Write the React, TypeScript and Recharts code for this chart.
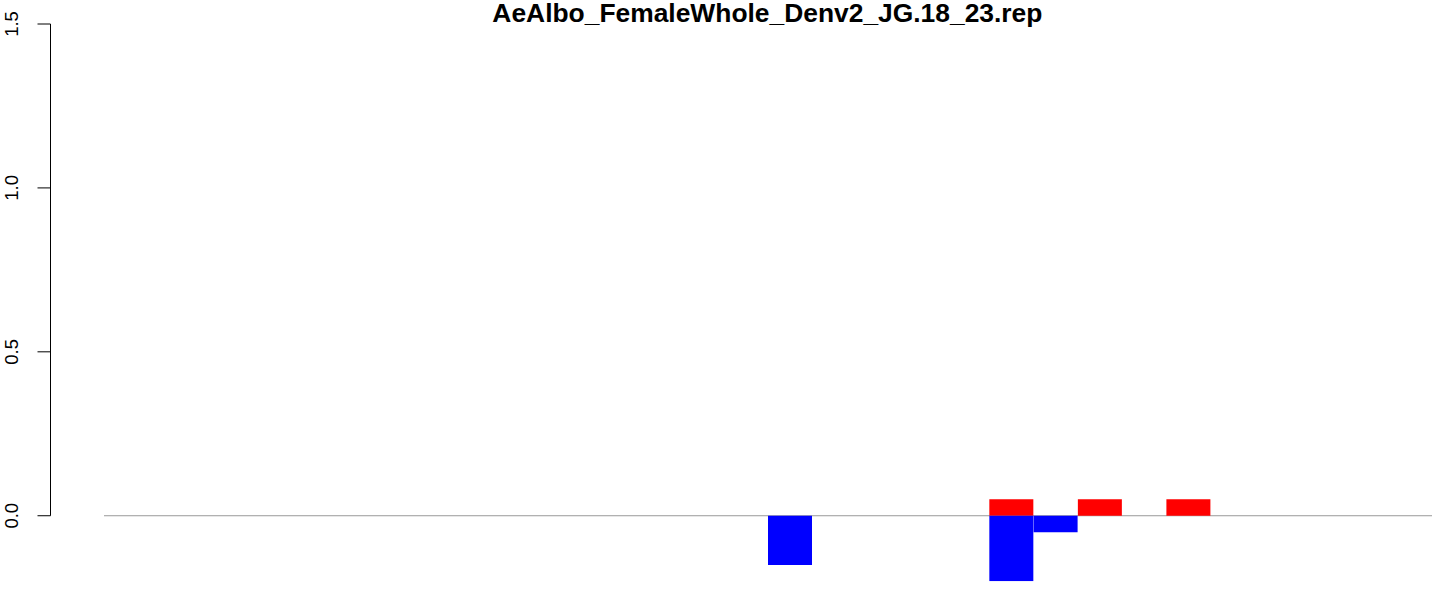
import React from 'react';
import { BarChart, Bar, XAxis, YAxis, ReferenceLine } from 'recharts';

const TITLE = 'AeAlbo_FemaleWhole_Denv2_JG.18_23.rep';

const CATEGORIES = [
  '1', '2', '3', '4', '5', '6', '7', '8', '9', '10',
  '11', '12', '13', '14', '15', '16', '17', '18', '19', '20',
  '21', '22', '23', '24', '25', '26', '27', '28', '29', '30',
];

// red (up) series
const UP_VALUES = [
  0, 0, 0, 0, 0, 0, 0, 0, 0, 0,
  0, 0, 0, 0, 0, 0, 0, 0, 0, 0,
  0.05, 0, 0.05, 0, 0.05, 0, 0, 0, 0, 0,
];

// blue (down) series
const DOWN_VALUES = [
  0, 0, 0, 0, 0, 0, 0, 0, 0, 0,
  0, 0, 0, 0, 0, -0.15, 0, 0, 0, 0,
  -0.2, -0.05, 0, 0, 0, 0, 0, 0, 0, 0,
];

const Y_TICKS = [0, 0.5, 1.0, 1.5];
const Y_DOMAIN: [number, number] = [-0.2, 1.5];

// layout
const W = 1444;
const H = 592;
const MARGIN = { top: 24, right: 0, bottom: 10.7, left: 0 };
const Y_AXIS_W = 50.5;
const PAD_L = 53.5;
const PAD_R = 12;
const PLOT_W = W - MARGIN.left - MARGIN.right - Y_AXIS_W;
const BAND = (PLOT_W - PAD_L - PAD_R) / CATEGORIES.length;
const NUM_MIN = -PAD_L / BAND;
const NUM_MAX = CATEGORIES.length + PAD_R / BAND;
const TITLE_CENTER_X = 767.4;
const FONT = '"Liberation Sans", Arial, Helvetica, sans-serif';

const data = CATEGORIES.map((c, i) => ({
  name: c,
  idx: i,
  up: UP_VALUES[i],
  down: DOWN_VALUES[i],
}));

const YTick = (props: any) => {
  const { x, y, payload } = props;
  return (
    <text
      x={x}
      y={y}
      transform={`rotate(-90, ${x}, ${y})`}
      textAnchor="middle"
      fontSize={18.5}
      fontFamily={FONT}
      fill="#000"
    >
      {Number(payload.value).toFixed(1)}
    </text>
  );
};

export default function App() {
  return (
    <div style={{ position: 'absolute', left: 0, top: 0, width: W, height: H, background: '#fff' }}>
      <div
        style={{
          position: 'absolute',
          left: TITLE_CENTER_X,
          top: 0,
          transform: 'translateX(-50%)',
          whiteSpace: 'nowrap',
          fontFamily: FONT,
          fontWeight: 'bold',
          fontSize: 26.4,
          lineHeight: '26.4px',
          color: '#000',
        }}
      >
        {TITLE}
      </div>
      <BarChart
        width={W}
        height={H}
        data={data}
        margin={MARGIN}
        stackOffset="sign"
        barCategoryGap={0}
        barGap={0}
      >
        <XAxis xAxisId="cat" dataKey="name" type="category" hide padding={{ left: PAD_L, right: PAD_R }} />
        <XAxis
          xAxisId="num"
          dataKey="idx"
          type="number"
          hide
          domain={[NUM_MIN, NUM_MAX]}
          allowDataOverflow
        />
        <YAxis
          width={Y_AXIS_W}
          domain={Y_DOMAIN}
          ticks={Y_TICKS}
          allowDataOverflow
          axisLine={false}
          stroke="#000"
          tickLine={{ stroke: '#000', strokeWidth: 1 }}
          tickSize={13}
          tickMargin={19.5}
          tick={<YTick />}
          interval={0}
        />
        <ReferenceLine
          xAxisId="num"
          segment={[
            { x: NUM_MIN, y: Y_TICKS[0] },
            { x: NUM_MIN, y: Y_TICKS[Y_TICKS.length - 1] },
          ]}
          stroke="#000"
          strokeWidth={1}
          ifOverflow="visible"
        />
        <ReferenceLine
          xAxisId="num"
          segment={[
            { x: 0, y: 0 },
            { x: CATEGORIES.length, y: 0 },
          ]}
          stroke="#999"
          strokeWidth={1}
          ifOverflow="visible"
          zIndex={-1}
        />
        <Bar xAxisId="cat" dataKey="up" stackId="s" fill="#ff0000" isAnimationActive={false} />
        <Bar xAxisId="cat" dataKey="down" stackId="s" fill="#0000ff" isAnimationActive={false} />
      </BarChart>
    </div>
  );
}
